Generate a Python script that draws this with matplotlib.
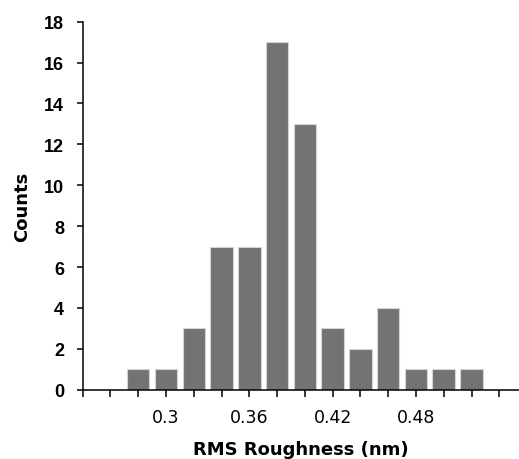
import numpy as np
import matplotlib.pyplot as plt

# histogram data
bin_centers = [0.28, 0.30, 0.32, 0.34, 0.36, 0.38, 0.40, 0.42, 0.44, 0.46, 0.48, 0.50, 0.52]
counts = [1, 1, 3, 7, 7, 17, 13, 3, 2, 4, 1, 1, 1]

x_ticks = np.round(np.arange(0.24, 0.5401, 0.02), 2)
x_labeled = [0.30, 0.36, 0.42, 0.48]

plt.rcParams['font.family'] = ['Liberation Sans', 'DejaVu Sans']

fig = plt.figure(figsize=(5.19, 4.6), dpi=100)
ax = fig.add_axes([0.1593, 0.1507, 0.8407, 0.80])

ax.bar(bin_centers, counts, width=0.0162, color='#737373',
       edgecolor='#d4d4d4', linewidth=0.8)

ax.set_xlim(0.24, 0.5542)
ax.set_ylim(0, 18)

ax.set_xticks(x_ticks)
ax.set_xticklabels([('%g' % t) if any(abs(t - v) < 1e-6 for v in x_labeled) else ''
                    for t in x_ticks], fontsize=12.5, family='DejaVu Sans')
ax.set_yticks(range(0, 19, 2))
ax.set_yticklabels([str(v) for v in range(0, 19, 2)], fontsize=13, fontweight='bold')

ax.tick_params(axis='x', direction='out', length=5, width=1.1, pad=8, color='black')
ax.tick_params(axis='y', direction='out', length=4.5, width=1.1, pad=9, color='black')

for side in ['top', 'right']:
    ax.spines[side].set_visible(False)
for side in ['left', 'bottom']:
    ax.spines[side].set_linewidth(1.1)

ax.set_xlabel('RMS Roughness (nm)', fontsize=13, fontweight='bold',
              family='DejaVu Sans', labelpad=10)
ax.set_ylabel('Counts', fontsize=13, fontweight='bold',
              family='DejaVu Sans', labelpad=9)

fig.savefig('out.png', dpi=100)
